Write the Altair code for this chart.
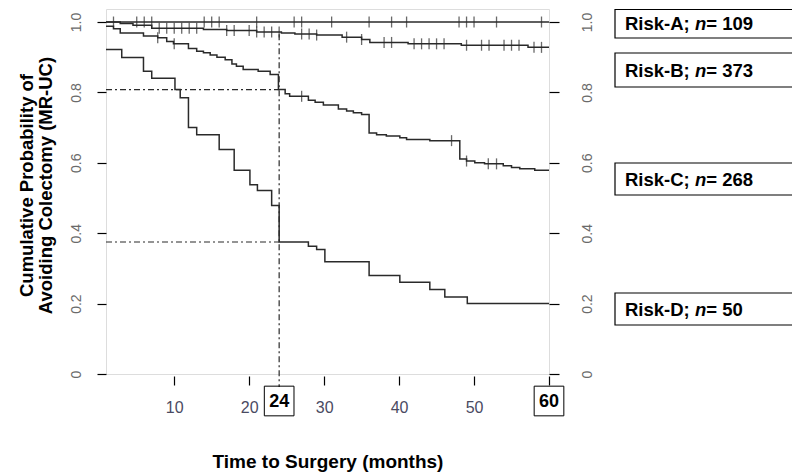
import altair as alt
import pandas as pd
import numpy as np

# ---------------- data ----------------
group_names = ["Risk-A", "Risk-B", "Risk-C", "Risk-D"]
group_n = [109, 373, 268, 50]

# Kaplan-Meier steps: month at which survival changes, survival after the step
A_t = [0.9, 60]
A_s = [1.0, 1.0]

B_t = [0.9, 2.8, 4.5, 7.0, 13.9, 17.0, 21.0, 24.3, 26.1, 29.0, 32.4, 35.0, 36.1, 41.2, 48.3, 57.2, 60]
B_s = [1.0, 0.996, 0.991, 0.982, 0.979, 0.976, 0.972, 0.969, 0.966, 0.963, 0.957, 0.950, 0.942, 0.938, 0.934, 0.928, 0.928]

C_t = [0.9, 1.9, 2.8, 5.9, 7.8, 9.0, 9.9, 11.9, 13.0, 13.9, 14.8, 15.7, 16.8, 17.7, 18.3, 19.2,
       21.2, 22.8, 23.9, 24.8, 25.4, 27.9, 28.8, 29.9, 31.9, 33.0, 33.9, 35.0, 36.0, 37.0, 38.3,
       40.1, 41.0, 44.1, 48.1, 49.0, 50.1, 51.4, 53.9, 55.0, 56.1, 58.1, 60]
C_s = [0.988, 0.981, 0.969, 0.960, 0.955, 0.945, 0.938, 0.925, 0.917, 0.913, 0.906, 0.900, 0.893, 0.881, 0.874, 0.865,
       0.860, 0.851, 0.808, 0.796, 0.789, 0.778, 0.772, 0.764, 0.753, 0.747, 0.742, 0.737, 0.685, 0.680, 0.676,
       0.671, 0.666, 0.663, 0.611, 0.605, 0.600, 0.597, 0.592, 0.587, 0.583, 0.579, 0.579]

D_t = [0.9, 3.0, 5.9, 7.0, 10.1, 10.8, 11.9, 13.0, 16.0, 18.0, 20.1, 21.1, 23.0, 24.0, 27.9, 29.0,
       30.1, 36.0, 40.1, 44.1, 46.1, 49.1, 60]
D_s = [0.922, 0.899, 0.860, 0.840, 0.808, 0.785, 0.700, 0.680, 0.638, 0.579, 0.538, 0.521, 0.479, 0.375, 0.363, 0.354,
       0.319, 0.280, 0.261, 0.240, 0.219, 0.200, 0.200]

# censoring times (months)
A_cens = [1.9, 5, 6, 7, 14, 15, 16, 21, 26, 27, 31, 36, 39, 41, 48, 49, 50, 53, 59]
B_cens = [8, 9, 10, 11, 12, 13, 17, 18, 20, 21, 22, 23, 24, 27, 28, 29, 33, 35, 38, 39,
          42, 43, 44, 45, 46, 49, 51, 52, 54, 55, 56, 58, 59]
C_cens = [7.8, 10, 27, 47, 49, 51.9, 53]
D_cens = []

# reference lines at 24 months
ref_month = 24
ref_levels = [0.808, 0.375]
ref_top = 0.965
x_tick_values = [10, 20, 30, 40, 50, 60]
boxed_ticks = [24, 60]
y_tick_values = [0, 0.2, 0.4, 0.6, 0.8, 1.0]

# ---------------- tables ----------------
curves = []
cens = []
for g, ts, ss, cs in zip(group_names, [A_t, B_t, C_t, D_t], [A_s, B_s, C_s, D_s],
                         [A_cens, B_cens, C_cens, D_cens]):
    for t, s in zip(ts, ss):
        curves.append({"g": g, "t": t, "s": s})
    for c in cs:
        idx = int(np.searchsorted(np.array(ts), c, side="right")) - 1
        cens.append({"g": g, "t": c, "s": ss[max(idx, 0)]})
curves = pd.DataFrame(curves)
cens = pd.DataFrame(cens)

hlines = pd.DataFrame({"t": [A_t[0]] * len(ref_levels), "t2": [ref_month] * len(ref_levels), "s": ref_levels})
vline = pd.DataFrame({"t": [ref_month], "s": [ref_top]})
boxed = pd.DataFrame({"t": boxed_ticks})
rightaxis = pd.DataFrame({"t": A_t, "s": A_s})

# ---------------- layout / style ----------------
FONT = "Liberation Sans"
W, H = 443, 365
LINE = "#2a2a2a"
DASH = [6, 3, 2, 3]

xscale = alt.Scale(domain=[0.9, 60], nice=False, zero=False)
yscale = alt.Scale(domain=[0, 1.037], nice=False, zero=False)

X = alt.X("t:Q", scale=xscale, axis=alt.Axis(
    values=x_tick_values, labelExpr="datum.value == 60 ? '' : datum.label",
    offset=2, tickSize=9, tickColor="black", tickWidth=1.2, domain=False, grid=False,
    labelFont=FONT, labelFontSize=16, labelColor="#4a4a62", labelPadding=14,
    title="Time to Surgery (months)", titleFont=FONT, titleFontSize=19, titleFontWeight="bold",
    titleColor="black", titleY=85, titleBaseline="middle"))

Y_left = alt.Y("s:Q", scale=yscale, axis=alt.Axis(
    orient="left", values=y_tick_values,
    labelExpr="datum.value == 0 ? '0' : format(datum.value, '.1f')",
    labelAngle=270, labelAlign="center", labelBaseline="bottom",
    tickSize=9, tickColor="black", tickWidth=1.2, domain=False, grid=False,
    labelFont=FONT, labelFontSize=14, labelColor="#6a6a6a", labelPadding=14,
    title=["Cumulative Probability of", "Avoiding Colectomy (MR-UC)"],
    titleFont=FONT, titleFontSize=18.5, titleFontWeight="bold", titleColor="black",
    titleAngle=270, titleAlign="center", titleBaseline="top", titleLineHeight=19,
    titleX=-89, titleY=176))

Y_right = alt.Y("s:Q", scale=yscale, axis=alt.Axis(
    orient="right", values=y_tick_values,
    labelExpr="datum.value == 0 ? '0' : format(datum.value, '.1f')",
    labelAngle=270, labelAlign="center", labelBaseline="top",
    tickSize=10, tickColor="black", tickWidth=1.2, domain=False, grid=False,
    labelFont=FONT, labelFontSize=14, labelColor="#6a6a6a", labelPadding=21, title=None))

Y_none = alt.Y("s:Q", scale=yscale, axis=None)

lines = alt.Chart(curves).mark_line(interpolate="step-after", color=LINE, strokeWidth=1.5).encode(
    x=X, y=Y_left, detail="g:N")

ticks = alt.Chart(cens).mark_tick(orient="vertical", size=11, thickness=1.3, color=LINE).encode(
    x=X, y=Y_none)

right = alt.Chart(rightaxis).mark_line(opacity=0).encode(x=X, y=Y_right)

hl = alt.Chart(hlines).mark_rule(color=LINE, strokeWidth=1.2, strokeDash=DASH).encode(
    x=X, x2="t2:Q", y=Y_none)

vl = alt.Chart(vline).mark_rule(color=LINE, strokeWidth=1.2, strokeDash=DASH).encode(
    x=X, y=Y_none, y2=alt.value(H + 13))

box_sq = alt.Chart(boxed).mark_point(shape="square", size=880, filled=False, color="black",
                                     strokeWidth=1, opacity=1).encode(x=X, y=alt.value(H + 27))
box_tx = alt.Chart(boxed).mark_text(font=FONT, fontSize=18, fontWeight="bold", color="black",
                                    baseline="middle", align="center").encode(
    x=X, y=alt.value(H + 28), text="t:Q")

# legend boxes (layout in pixels, right of the plot)
CW = {"R": .722, "i": .278, "s": .556, "k": .556, "-": .333, "A": .722, "B": .722, "C": .722,
      "D": .722, ";": .333, " ": .278, "n": .611, "=": .584}
def width(txt, size):
    return sum(CW.get(ch, .556) for ch in txt) * size

leg_box_top = [0.5, 44, 154, 284]
leg_box_bot = [29, 78, 186, 316]
LEG_X0, LEG_X1 = 509, 689
LEG_FS = 18.5
legend_layers = []
for name, n, top, bot in zip(group_names, group_n, leg_box_top, leg_box_bot):
    one = pd.DataFrame({"g": [name]})
    cy = (top + bot) / 2 + 0.5
    p1 = name + "; "
    p3 = "= " + str(n)
    x1 = LEG_X0 + 10
    x2 = x1 + width(p1, LEG_FS)
    x3 = x2 + width("n", LEG_FS)
    legend_layers.append(alt.Chart(one).mark_rect(fill="white", stroke="black", strokeWidth=1.2).encode(
        x=alt.value(LEG_X0), x2=alt.value(LEG_X1), y=alt.value(top), y2=alt.value(bot)))
    legend_layers.append(alt.Chart(one).mark_text(text=p1, font=FONT, fontSize=LEG_FS, fontWeight="bold",
                                                  align="left", baseline="middle", color="black").encode(
        x=alt.value(x1), y=alt.value(cy)))
    legend_layers.append(alt.Chart(one).mark_text(text="n", font=FONT, fontSize=LEG_FS, fontWeight="bold",
                                                  fontStyle="italic", align="left", baseline="middle",
                                                  color="black").encode(x=alt.value(x2), y=alt.value(cy)))
    legend_layers.append(alt.Chart(one).mark_text(text=p3, font=FONT, fontSize=LEG_FS, fontWeight="bold",
                                                  align="left", baseline="middle", color="black").encode(
        x=alt.value(x3), y=alt.value(cy)))

chart = alt.layer(lines, right, ticks, hl, vl, box_sq, box_tx, *legend_layers).resolve_axis(
    y="independent"
).properties(
    width=W, height=H,
    autosize=alt.AutoSizeParams(type="none"),
    padding={"left": 98, "top": 1, "right": 243, "bottom": 101},
).configure_view(stroke="black", strokeWidth=1.2).configure(background="white")

chart.save("out.html", embed_options={"renderer": "svg", "actions": False})
